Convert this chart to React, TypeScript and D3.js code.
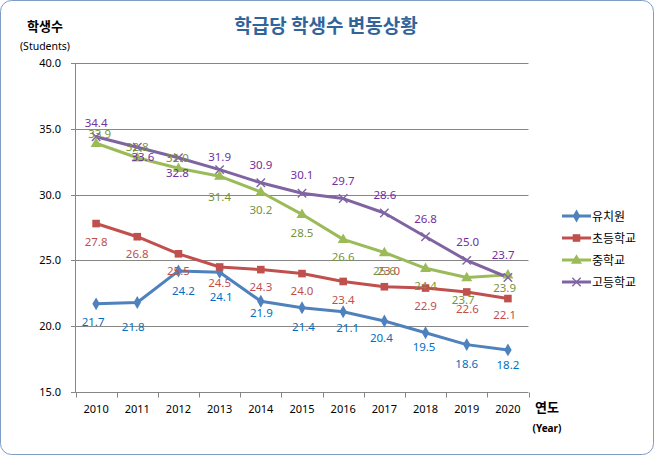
import React from "react";
import * as d3 from "d3";

const years = ["2010", "2011", "2012", "2013", "2014", "2015", "2016", "2017", "2018", "2019", "2020"];
const kindergarten = [21.7, 21.8, 24.2, 24.1, 21.9, 21.4, 21.1, 20.4, 19.5, 18.6, 18.2];
const elementary = [27.8, 26.8, 25.5, 24.5, 24.3, 24.0, 23.4, 23.0, 22.9, 22.6, 22.1];
const middle = [33.9, 32.8, 32.0, 31.4, 30.2, 28.5, 26.6, 25.6, 24.4, 23.7, 23.9];
const high = [34.4, 33.6, 32.8, 31.9, 30.9, 30.1, 29.7, 28.6, 26.8, 25.0, 23.7];
const seriesNames = ["유치원", "초등학교", "중학교", "고등학교"];
const yTicks = [15, 20, 25, 30, 35, 40];

// label offsets (dx, dy) from each point, per series
const kinderLabelOff = [[-3, 18], [-4, 24], [5, 20.5], [1.5, 25], [0.5, 12], [1.5, 19.5], [4.5, 16.5], [-3, 17.3], [-1.5, 14.6], [0, 19], [0, 15.3]];
const elemLabelOff = [[0, 18.8], [0, 17.2], [0, 17.6], [0, 15.7], [0, 17.7], [0, 17.1], [0, 18.2], [4.4, -15.8], [0, 17.9], [0.7, 17.4], [-3.3, 16.6]];
const middleLabelOff = [[3.6, -9.5], [0, -10.7], [-1, -10], [0, 21], [0, 17.8], [0, 18.3], [0, 17.5], [0, 18.4], [0, 17.7], [-3.5, 22.7], [-3.3, 12.8]];
const highLabelOff = [[0, -13.3], [5.6, 9.5], [-1, 15.4], [0, -12.8], [0, -18], [0, -18], [0, -17.4], [0.5, -17.7], [0, -17.4], [1, -18.6], [-4.7, -23]];

const W = 654;
const H = 455;
const numFont = "'Noto Sans', 'Liberation Sans', sans-serif";
const krFont = "'Noto Sans CJK KR', 'Noto Sans', sans-serif";

type Marker = "diamond" | "square" | "triangle" | "cross";

function MarkerShape({ type, x, y, color }: { type: Marker; x: number; y: number; color: string }) {
  if (type === "diamond") {
    const p = d3.symbol().type(d3.symbolDiamond).size(48)();
    return <path d={p || ""} transform={`translate(${x},${y})`} fill={color} />;
  }
  if (type === "square") {
    return <rect x={x - 3.8} y={y - 3.8} width={7.6} height={7.6} fill={color} />;
  }
  if (type === "triangle") {
    const p = d3.symbol().type(d3.symbolTriangle).size(52)();
    return <path d={p || ""} transform={`translate(${x},${y + 0.5})`} fill={color} />;
  }
  const s = 4.2;
  return (
    <path
      d={`M${x - s},${y - s}L${x + s},${y + s}M${x - s},${y + s}L${x + s},${y - s}`}
      stroke={color}
      strokeWidth={1.4}
      fill="none"
    />
  );
}

export default function App() {
  const x = d3.scaleBand().domain(years).range([75.5, 528.5]).paddingInner(0).paddingOuter(0);
  const y = d3.scaleLinear().domain([15, 40]).range([392, 63]);
  const bw = x.bandwidth();
  const cx = (yr: string) => (x(yr) as number) + bw / 2;

  const series = [
    { name: seriesNames[0], values: kindergarten, color: "#4F81BD", label: "#0070C0", marker: "diamond" as Marker, off: kinderLabelOff },
    { name: seriesNames[1], values: elementary, color: "#C0504D", label: "#C0504D", marker: "square" as Marker, off: elemLabelOff },
    { name: seriesNames[2], values: middle, color: "#9BBB59", label: "#77933C", marker: "triangle" as Marker, off: middleLabelOff },
    { name: seriesNames[3], values: high, color: "#8064A2", label: "#7030A0", marker: "cross" as Marker, off: highLabelOff },
  ];

  const line = d3
    .line<number>()
    .x((_, i) => cx(years[i]))
    .y((v) => y(v));

  const boundaries = [...years.map((yr) => x(yr) as number), x.range()[1]];

  return (
    <svg
      width={W}
      height={H}
      style={{ position: "absolute", left: 0, top: 0, background: "#fff" }}
      xmlns="http://www.w3.org/2000/svg"
    >
      <rect x={0.5} y={0.5} width={W - 1} height={H - 1} rx={11} ry={11} fill="#fff" stroke="#7F9CC4" strokeWidth={1} />

      <text x={326} y={33} textAnchor="middle" fontFamily={krFont} fontWeight="bold" fontSize={19} fill="#31649B">
        학급당 학생수 변동상황
      </text>
      <text x={45} y={31} textAnchor="middle" fontFamily={krFont} fontWeight="bold" fontSize={13} fill="#000">
        학생수
      </text>
      <text x={45} y={50} textAnchor="middle" fontFamily={numFont} fontSize={10.5} fill="#000">
        (Students)
      </text>

      {/* grid lines */}
      {yTicks.map((t) => (
        <g key={t}>
          {t !== 15 && (
            <line x1={75.5} x2={528.5} y1={Math.round(y(t)) + 0.5} y2={Math.round(y(t)) + 0.5} stroke="#868686" strokeWidth={1} />
          )}
          <line x1={71} x2={75.5} y1={Math.round(y(t)) + 0.5} y2={Math.round(y(t)) + 0.5} stroke="#868686" strokeWidth={1} />
          <text x={61} y={y(t) + 4} textAnchor="end" fontFamily={numFont} fontSize={11} fill="#000">
            {d3.format(".1f")(t)}
          </text>
        </g>
      ))}
      {/* axes */}
      <line x1={75.5} x2={75.5} y1={63} y2={392.5} stroke="#868686" strokeWidth={1} />
      <line x1={75.5} x2={528.5} y1={392.5} y2={392.5} stroke="#868686" strokeWidth={1} />
      {boundaries.map((b, i) => (
        <line key={i} x1={Math.round(b) + 0.5} x2={Math.round(b) + 0.5} y1={392.5} y2={397.5} stroke="#868686" strokeWidth={1} />
      ))}
      {years.map((yr) => (
        <text key={yr} x={cx(yr)} y={413} textAnchor="middle" fontFamily={numFont} fontSize={11} fill="#000">
          {yr}
        </text>
      ))}
      <text x={547} y={412} textAnchor="middle" fontFamily={krFont} fontWeight="bold" fontSize={13} fill="#000">
        연도
      </text>
      <text x={547} y={432} textAnchor="middle" fontFamily={numFont} fontWeight="bold" fontSize={10} fill="#000">
        (Year)
      </text>

      {/* series lines */}
      {series.map((s) => (
        <path key={s.name} d={line(s.values) || ""} fill="none" stroke={s.color} strokeWidth={3} strokeLinejoin="round" strokeLinecap="round" />
      ))}
      {series.map((s) =>
        s.values.map((v, i) => (
          <MarkerShape key={s.name + i} type={s.marker} x={cx(years[i])} y={y(v)} color={s.color} />
        ))
      )}
      {/* data labels */}
      {series.map((s) =>
        s.values.map((v, i) => (
          <text
            key={"l" + s.name + i}
            x={cx(years[i]) + s.off[i][0]}
            y={y(v) + s.off[i][1] + 4}
            textAnchor="middle"
            fontFamily={numFont}
            fontSize={11.5}
            fill={s.label}
          >
            {d3.format(".1f")(v)}
          </text>
        ))
      )}

      {/* legend */}
      {series.map((s, i) => {
        const ly = 216 + i * 22;
        return (
          <g key={"lg" + s.name}>
            <line x1={562} x2={591} y1={ly} y2={ly} stroke={s.color} strokeWidth={3} />
            <MarkerShape type={s.marker} x={576.5} y={ly} color={s.color} />
            <text x={592} y={ly + 4.5} fontFamily={krFont} fontSize={12} fill="#000">
              {s.name}
            </text>
          </g>
        );
      })}
    </svg>
  );
}
